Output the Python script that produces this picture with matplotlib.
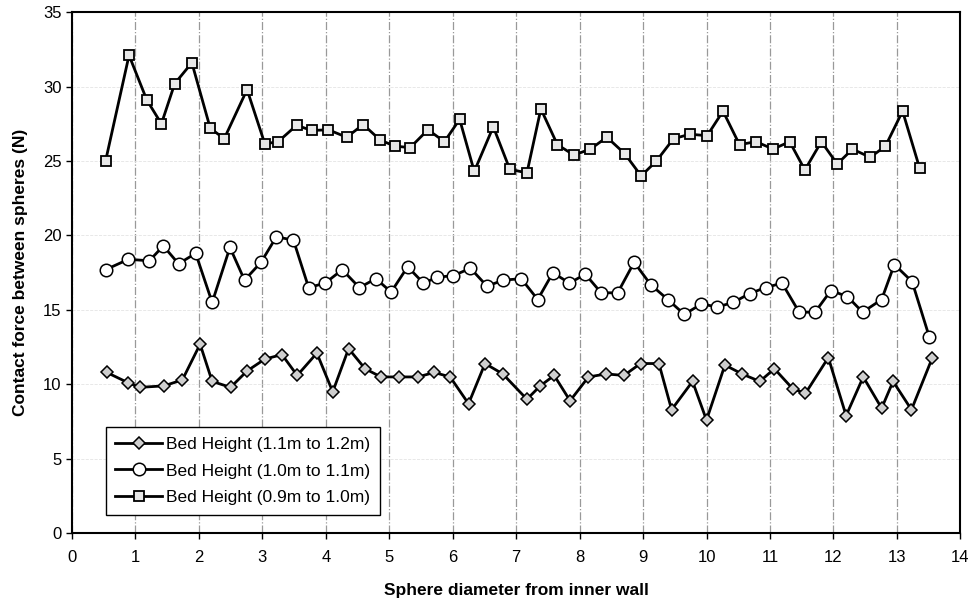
import numpy as np
import matplotlib
matplotlib.use('Agg')
import matplotlib.pyplot as plt

plt.rcParams['font.family'] = ['Liberation Sans', 'DejaVu Sans']

# Bed Height (1.1m to 1.2m) - diamonds
x_d = [0.55, 0.89, 1.07, 1.45, 1.74, 2.02, 2.21, 2.50, 2.76, 3.04, 3.31, 3.55, 3.86, 4.11,
       4.36, 4.62, 4.87, 5.15, 5.45, 5.71, 5.96, 6.25, 6.51, 6.79, 7.17, 7.38, 7.60, 7.85,
       8.14, 8.42, 8.70, 8.96, 9.25, 9.45, 9.78, 10.00, 10.29, 10.56, 10.84, 11.07, 11.36,
       11.56, 11.92, 12.20, 12.47, 12.76, 12.94, 13.23, 13.56]
y_d = [10.8, 10.1, 9.8, 9.9, 10.3, 12.7, 10.2, 9.8, 10.9, 11.7, 12.0, 10.6, 12.1, 9.5,
       12.4, 11.05, 10.5, 10.5, 10.5, 10.8, 10.5, 8.7, 11.4, 10.7, 9.0, 9.9, 10.6, 8.9,
       10.5, 10.7, 10.6, 11.4, 11.4, 8.3, 10.2, 7.6, 11.3, 10.7, 10.2, 11.05, 9.7,
       9.4, 11.8, 7.9, 10.5, 8.4, 10.2, 8.3, 11.8]

# Bed Height (1.0m to 1.1m) - circles
x_c = [0.53, 0.89, 1.22, 1.44, 1.68, 1.95, 2.21, 2.49, 2.72, 2.98, 3.22, 3.49, 3.73, 3.99,
       4.26, 4.53, 4.79, 5.03, 5.29, 5.54, 5.76, 6.01, 6.28, 6.54, 6.80, 7.08, 7.34, 7.58,
       7.84, 8.09, 8.34, 8.60, 8.86, 9.12, 9.39, 9.65, 9.92, 10.17, 10.42, 10.68, 10.93,
       11.19, 11.46, 11.71, 11.96, 12.22, 12.46, 12.76, 12.96, 13.24, 13.51]
y_c = [17.7, 18.4, 18.3, 19.3, 18.1, 18.8, 15.5, 19.2, 17.0, 18.2, 19.9, 19.7, 16.5, 16.8,
       17.7, 16.5, 17.1, 16.2, 17.9, 16.8, 17.2, 17.3, 17.8, 16.6, 17.0, 17.1, 15.7, 17.5,
       16.8, 17.4, 16.15, 16.15, 18.2, 16.7, 15.7, 14.7, 15.4, 15.2, 15.5, 16.1, 16.5,
       16.8, 14.85, 14.85, 16.3, 15.9, 14.85, 15.7, 18.05, 16.9, 13.2]

# Bed Height (0.9m to 1.0m) - squares
x_s = [0.53, 0.90, 1.18, 1.41, 1.62, 1.89, 2.18, 2.40, 2.76, 3.04, 3.25, 3.54, 3.78, 4.04,
       4.33, 4.59, 4.86, 5.09, 5.33, 5.61, 5.87, 6.11, 6.34, 6.64, 6.90, 7.17, 7.39, 7.65,
       7.91, 8.17, 8.43, 8.71, 8.97, 9.21, 9.48, 9.74, 10.01, 10.26, 10.52, 10.78, 11.05,
       11.31, 11.55, 11.81, 12.06, 12.30, 12.58, 12.82, 13.09, 13.36]
y_s = [25.0, 32.1, 29.1, 27.5, 30.2, 31.6, 27.2, 26.5, 29.8, 26.15, 26.3, 27.4, 27.05, 27.1,
       26.6, 27.45, 26.4, 26.0, 25.9, 27.1, 26.3, 27.8, 24.3, 27.3, 24.45, 24.2, 28.5, 26.1,
       25.4, 25.8, 26.6, 25.5, 24.0, 25.0, 26.5, 26.8, 26.7, 28.35, 26.1, 26.3, 25.8,
       26.3, 24.4, 26.3, 24.8, 25.8, 25.25, 26.0, 28.35, 24.5]

labels = ['Bed Height (1.1m to 1.2m)', 'Bed Height (1.0m to 1.1m)', 'Bed Height (0.9m to 1.0m)']

fig = plt.figure(figsize=(9.72, 6.06), dpi=100)
ax = fig.add_axes([0.074, 0.120, 0.914, 0.860])

ax.plot(x_d, y_d, color='black', lw=2.0, marker='D', markersize=6,
        markerfacecolor='#cfcfcf', markeredgecolor='black', markeredgewidth=1.1, label=labels[0])
ax.plot(x_c, y_c, color='black', lw=2.0, marker='o', markersize=9,
        markerfacecolor='white', markeredgecolor='black', markeredgewidth=1.1, label=labels[1])
ax.plot(x_s, y_s, color='black', lw=2.0, marker='s', markersize=7.5,
        markerfacecolor='#e8e8e8', markeredgecolor='black', markeredgewidth=1.3, label=labels[2])

ax.set_xlim(0, 14)
ax.set_ylim(0, 35)
ax.set_xticks(np.arange(0, 15, 1))
ax.set_yticks(np.arange(0, 36, 5))
ax.tick_params(axis='both', direction='out', length=4, width=1, labelsize=12, colors='black')
ax.tick_params(axis='x', pad=8)

# vertical dash-dot grid
ax.grid(axis='x', color='#999999', linestyle='-.', linewidth=0.9)
ax.grid(axis='y', color='#e4e4e4', linestyle='--', linewidth=0.6)
ax.set_axisbelow(True)

for sp in ax.spines.values():
    sp.set_linewidth(1.5)
    sp.set_color('black')

ax.set_xlabel('Sphere diameter from inner wall', fontsize=12.5, fontweight='bold', labelpad=13)
ax.set_ylabel('Contact force between spheres (N)', fontsize=12.5, fontweight='bold', labelpad=11)

leg = ax.legend(loc='lower left', bbox_to_anchor=(0.038, 0.036), borderaxespad=0,
                fancybox=False, framealpha=1, edgecolor='black', fontsize=12.5,
                handlelength=2.7, handletextpad=0.25, labelspacing=0.65, borderpad=0.55)
leg.get_frame().set_linewidth(1.0)

fig.savefig('out.png', dpi=100)
